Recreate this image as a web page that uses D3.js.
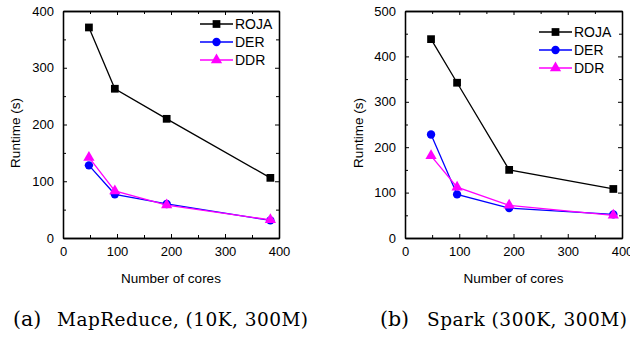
<!DOCTYPE html>
<html>
<head>
<meta charset="utf-8">
<script src="https://cdn.jsdelivr.net/npm/d3@7"></script>
<style>
  body { margin: 0; background: #fff; }
  svg text { font-family: "Liberation Sans", Arial, sans-serif; }
  .cap { font-family: "DejaVu Serif", "Liberation Serif", serif; }
</style>
</head>
<body>
<div id="chart"></div>
<script>
// cores on the x axis, shared by both panels
var cores = [48, 96, 192, 384];
var seriesNames = ["ROJA", "DER", "DDR"];

// (a) MapReduce
var mrRoja = [371, 263, 210, 106];
var mrDer = [128, 77, 60, 31];
var mrDdr = [142, 83, 58, 32];

// (b) Spark
var spRoja = [438, 342, 150, 108];
var spDer = [228, 96, 66, 52];
var spDdr = [181, 112, 72, 50];

var xTicks = [0, 100, 200, 300, 400];
var mrYTicks = [0, 100, 200, 300, 400];
var spYTicks = [0, 100, 200, 300, 400, 500];

var captions = ["(a)", "(b)"];
var captionText = ["MapReduce, (10K, 300M)", "Spark (300K, 300M)"];

var colors = {ROJA: "#000", DER: "#0000ff", DDR: "#ff00ff"};
var shapes = {ROJA: d3.symbolSquare, DER: d3.symbolCircle, DDR: d3.symbolTriangle};
var sizes = {ROJA: 60, DER: 55, DDR: 55};

var svg = d3.select("#chart").append("svg")
    .attr("width", 630)
    .attr("height", 337);

function drawPanel(p) {
  var x = d3.scaleLinear().domain([0, 400]).range([p.left, p.right]);
  var y = d3.scaleLinear().domain([0, p.ymax]).range([238, 11]);
  var g = svg.append("g");

  // minor ticks every 50, inside, on all four sides
  var xMinor = d3.range(50, 400, 100), yMinor = d3.range(50, p.ymax, 100);

  g.append("g").attr("transform", "translate(0,238)")
    .call(d3.axisBottom(x).tickValues(xTicks).tickSizeInner(-4).tickSizeOuter(0).tickPadding(9));
  g.append("g").attr("transform", "translate(0,238)")
    .call(d3.axisBottom(x).tickValues(xMinor).tickSizeInner(-3).tickSizeOuter(0).tickFormat(""));
  g.append("g").attr("transform", "translate(0,11)")
    .call(d3.axisTop(x).tickValues(xTicks).tickSizeInner(-4).tickSizeOuter(0).tickFormat(""));
  g.append("g").attr("transform", "translate(0,11)")
    .call(d3.axisTop(x).tickValues(xMinor).tickSizeInner(-3).tickSizeOuter(0).tickFormat(""));

  g.append("g").attr("transform", "translate(" + p.left + ",0)")
    .call(d3.axisLeft(y).tickValues(p.yticks).tickSizeInner(-4).tickSizeOuter(0).tickPadding(9));
  g.append("g").attr("transform", "translate(" + p.left + ",0)")
    .call(d3.axisLeft(y).tickValues(yMinor).tickSizeInner(-3).tickSizeOuter(0).tickFormat(""));
  g.append("g").attr("transform", "translate(" + p.right + ",0)")
    .call(d3.axisRight(y).tickValues(p.yticks).tickSizeInner(-4).tickSizeOuter(0).tickFormat(""));
  g.append("g").attr("transform", "translate(" + p.right + ",0)")
    .call(d3.axisRight(y).tickValues(yMinor).tickSizeInner(-3).tickSizeOuter(0).tickFormat(""));

  g.selectAll(".domain").attr("stroke", "#000").attr("stroke-width", 1.3);
  g.selectAll(".tick line").attr("stroke", "#000");
  g.selectAll(".tick text").attr("font-size", 13).attr("fill", "#000")
    .style("font-family", "Liberation Sans, Arial, sans-serif");

  g.append("text")
    .attr("x", (p.left + p.right) / 2).attr("y", 283)
    .attr("text-anchor", "middle").attr("font-size", 13.5)
    .text("Number of cores");
  g.append("text")
    .attr("transform", "translate(" + p.ylabX + ",133) rotate(-90)")
    .attr("text-anchor", "middle").attr("font-size", 13.5)
    .text("Runtime (s)");

  var line = d3.line().x(function(d, i) { return x(cores[i]); }).y(function(d) { return y(d); });

  p.series.forEach(function(vals, k) {
    var name = seriesNames[k];
    g.append("path").datum(vals)
      .attr("fill", "none").attr("stroke", colors[name]).attr("stroke-width", 1.3)
      .attr("d", line);
    g.selectAll(".pt" + k).data(vals).enter().append("path")
      .attr("transform", function(d, i) { return "translate(" + x(cores[i]) + "," + y(d) + ")"; })
      .attr("d", d3.symbol().type(shapes[name]).size(sizes[name]))
      .attr("fill", colors[name]);
  });

  // legend
  seriesNames.forEach(function(name, k) {
    var ly = p.legY + k * 18;
    g.append("line")
      .attr("x1", p.legX).attr("x2", p.legX + 33)
      .attr("y1", ly).attr("y2", ly)
      .attr("stroke", colors[name]).attr("stroke-width", 1.3);
    g.append("path")
      .attr("transform", "translate(" + (p.legX + 16.5) + "," + ly + ")")
      .attr("d", d3.symbol().type(shapes[name]).size(sizes[name]))
      .attr("fill", colors[name]);
    g.append("text")
      .attr("x", p.legX + 35).attr("y", ly + 5)
      .attr("font-size", 14)
      .text(name);
  });

  // sub-figure caption below the panel
  g.append("text").attr("class", "cap")
    .attr("x", p.capX).attr("y", 326).attr("font-size", 20.5)
    .text(captions[p.idx]);
  g.append("text").attr("class", "cap")
    .attr("x", p.capTextX).attr("y", 326).attr("font-size", 18.5)
    .attr("textLength", p.capW).attr("lengthAdjust", "spacing")
    .text(captionText[p.idx]);
}

drawPanel({idx: 0, left: 63, right: 279, ymax: 400, yticks: mrYTicks,
  series: [mrRoja, mrDer, mrDdr], ylabX: 20, legX: 200, legY: 24,
  capX: 13, capTextX: 57, capW: 251});
drawPanel({idx: 1, left: 405, right: 622, ymax: 500, yticks: spYTicks,
  series: [spRoja, spDer, spDdr], ylabX: 363, legX: 539, legY: 32,
  capX: 380, capTextX: 427, capW: 200});
</script>
</body>
</html>
